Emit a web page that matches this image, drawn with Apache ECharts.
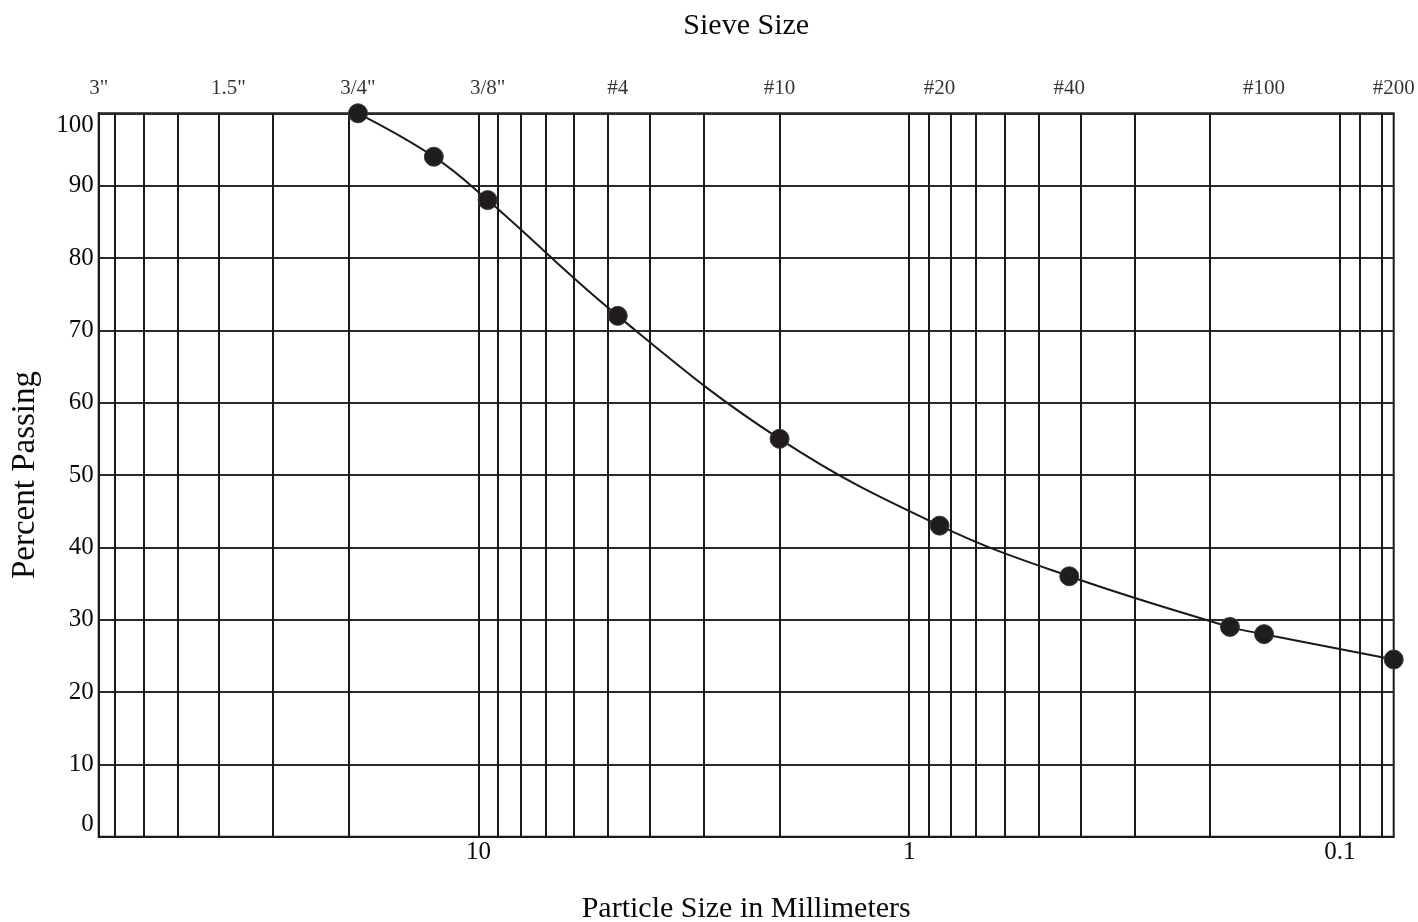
<!DOCTYPE html>
<html>
<head>
<meta charset="utf-8">
<title>Sieve Analysis</title>
<script src="https://cdn.jsdelivr.net/npm/echarts@6/dist/echarts.min.js"></script>
<style>
  html, body { margin: 0; padding: 0; background: #ffffff; }
  #chart { width: 1418px; height: 922px; }
</style>
</head>
<body>
<div id="chart"></div>
<script>
// Standard sieve openings (mm) and their names, printed along the top edge
const sieveNames = ['3"', '1.5"', '3/4"', '3/8"', '#4', '#10', '#20', '#40', '#100', '#200'];
const sieveSizes = [76.2, 38.1, 19.05, 9.525, 4.75, 2.0, 0.85, 0.425, 0.15, 0.075];

// Log-cycle grid lines (mm)
const gridSizes = [70, 60, 50, 40, 30, 20,
  10, 9, 8, 7, 6, 5, 4, 3, 2,
  1, 0.9, 0.8, 0.7, 0.6, 0.5, 0.4, 0.3, 0.2,
  0.1, 0.09, 0.08];

// Gradation test results
const particleSizes = [19.05, 12.7, 9.525, 4.75, 2.0, 0.85, 0.425, 0.18, 0.15, 0.075];
const percentPassing = [100, 94, 88, 72, 55, 43, 36, 29, 28, 24.5];

// Axis range
const sizeMin = 0.075;
const sizeMax = 76.2;
const percentMin = 0;
const percentMax = 100;
const percentStep = 10;

const FONT = "'Liberation Serif', 'DejaVu Serif', 'Times New Roman', serif";
const INK = '#1a1a1a';
const TEXT = '#0a0a0a';

const chart = echarts.init(document.getElementById('chart'), null, { renderer: 'canvas' });

const option = {
  backgroundColor: '#ffffff',
  animation: false,
  grid: {
    left: 98.7,
    right: 24.3,
    top: 113.3,
    bottom: 85.3,
    outerBoundsMode: 'none',
    containLabel: false,
    show: true,
    borderColor: INK,
    borderWidth: 2,
    backgroundColor: 'transparent'
  },
  xAxis: [
    {
      type: 'log',
      logBase: 10,
      min: sizeMin,
      max: sizeMax,
      inverse: true,
      position: 'bottom',
      name: 'Particle Size in Millimeters',
      nameLocation: 'middle',
      nameGap: 57,
      nameTextStyle: { fontFamily: FONT, fontSize: 30, color: TEXT },
      axisLine: { show: true, lineStyle: { color: INK, width: 2 } },
      axisTick: { show: false },
      splitLine: { show: false },
      axisLabel: {
        fontFamily: FONT,
        fontSize: 25,
        color: TEXT,
        margin: 3,
        showMinLabel: false,
        showMaxLabel: false,
        formatter: function (v) { return String(+v.toPrecision(6)); }
      }
    },
    {
      type: 'log',
      logBase: 10,
      min: sizeMin,
      max: sizeMax,
      inverse: true,
      position: 'top',
      name: 'Sieve Size',
      nameLocation: 'middle',
      nameGap: 72,
      nameTextStyle: { fontFamily: FONT, fontSize: 30, color: TEXT },
      axisLine: { show: false },
      axisTick: { show: false },
      axisLabel: { show: false },
      splitLine: { show: false }
    }
  ],
  yAxis: {
    type: 'value',
    min: percentMin,
    max: percentMax,
    interval: percentStep,
    name: 'Percent Passing',
    nameLocation: 'middle',
    nameGap: 57,
    nameTextStyle: { fontFamily: FONT, fontSize: 33, color: TEXT },
    axisLine: { show: true, lineStyle: { color: INK, width: 2 } },
    axisTick: { show: false },
    splitLine: { show: true, lineStyle: { color: '#2a2a2a', width: 2 } },
    axisLabel: {
      fontFamily: FONT,
      fontSize: 25,
      color: TEXT,
      margin: 5,
      verticalAlignMaxLabel: 'top',
      verticalAlignMinLabel: 'bottom'
    }
  },
  series: [
    {
      // vertical log-cycle grid
      type: 'scatter',
      xAxisIndex: 0,
      data: [],
      silent: true,
      z: 1,
      markLine: {
        silent: true,
        symbol: ['none', 'none'],
        label: { show: false },
        lineStyle: { color: INK, width: 2, type: 'solid' },
        emphasis: { disabled: true },
        animation: false,
        data: gridSizes.map(function (s) { return { xAxis: s }; })
      }
    },
    {
      // sieve designations above the frame
      type: 'scatter',
      xAxisIndex: 0,
      silent: true,
      symbolSize: 0,
      z: 2,
      data: sieveSizes.map(function (s, i) {
        return { name: sieveNames[i], value: [s, percentMax] };
      }),
      label: {
        show: true,
        position: 'top',
        distance: 14,
        formatter: '{b}',
        fontFamily: FONT,
        fontSize: 21,
        color: '#000000'
      }
    },
    {
      // gradation curve
      type: 'line',
      xAxisIndex: 0,
      z: 5,
      smooth: 0.4,
      symbol: 'circle',
      symbolSize: 19,
      showAllSymbol: true,
      clip: false,
      lineStyle: { color: INK, width: 2 },
      itemStyle: { color: '#211d1e', borderColor: '#3a3a3a', borderWidth: 1 },
      data: particleSizes.map(function (s, i) { return [s, percentPassing[i]]; })
    }
  ]
};

chart.setOption(option);
</script>
</body>
</html>
